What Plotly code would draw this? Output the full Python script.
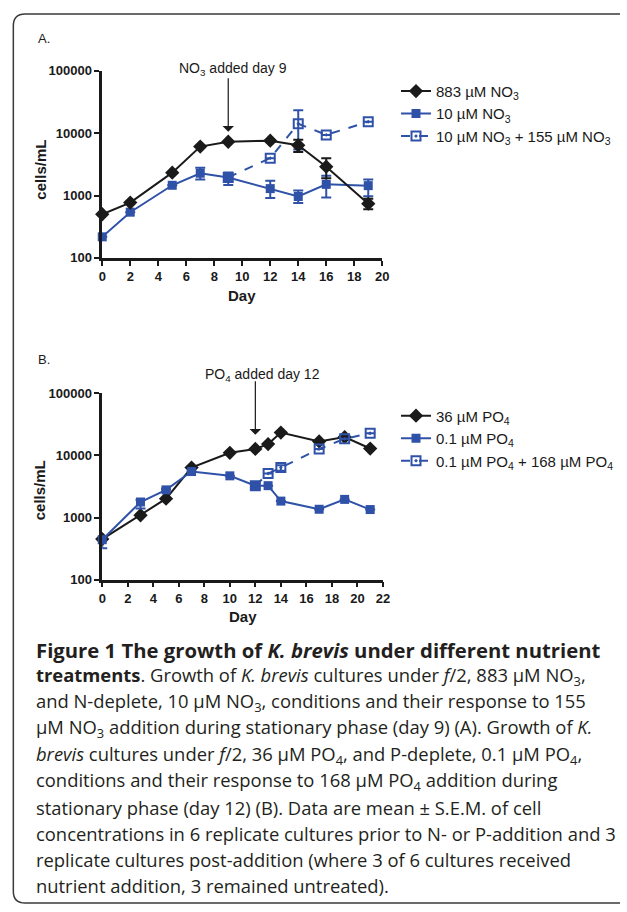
import plotly.graph_objects as go
import numpy as np

W, H = 627, 912

# ---------------- Data: panel A (nitrate) ----------------
a_days_hi = [0, 2, 5, 7, 9, 12, 14, 16, 19]
a_hi_vals = [500, 770, 2330, 6100, 7300, 7600, 6400, 2900, 740]
a_hi_up = [0, 0, 0, 0, 0, 0, 1450, 1050, 150]
a_hi_dn = [0, 0, 0, 0, 0, 0, 1400, 1000, 140]

a_days_lo = [0, 2, 5, 7, 9, 12, 14, 16, 19]
a_lo_vals = [217, 540, 1460, 2280, 1950, 1290, 965, 1510, 1440]
a_lo_up = [0, 0, 0, 520, 390, 440, 235, 560, 370]
a_lo_dn = [0, 0, 0, 470, 480, 380, 205, 580, 465]

a_days_add = [9, 12, 14, 16, 19]
a_add_vals = [1950, 3980, 14200, 9400, 15300]
a_add_up = [0, 0, 9200, 0, 0]
a_add_dn = [0, 0, 8700, 0, 0]

# ---------------- Data: panel B (phosphate) ----------------
b_days_hi = [0, 3, 5, 7, 10, 12, 13, 14, 17, 19, 21]
b_hi_vals = [450, 1090, 2010, 6360, 11000, 12700, 15200, 23300, 16800, 19700, 12900]

b_days_lo = [0, 3, 5, 7, 10, 12, 13, 14, 17, 19, 21]
b_lo_vals = [440, 1780, 2790, 5500, 4690, 3260, 3260, 1840, 1360, 1960, 1345]
b_lo_up = [60, 150, 150, 0, 0, 0, 0, 0, 0, 0, 0]
b_lo_dn = [120, 380, 0, 0, 0, 0, 0, 0, 0, 0, 0]

b_days_add = [12, 13, 14, 17, 19, 21]
b_add_vals = [3260, 5110, 6360, 12700, 18500, 22700]
b_add_up = [0, 0, 600, 0, 0, 0]
b_add_dn = [0, 0, 700, 0, 0, 0]

y_tickvals = [100, 1000, 10000, 100000]
y_ticktext = ["100", "1000", "10000", "100000"]

leg_a = ["883 µM NO<sub>3</sub>", "10 µM NO<sub>3</sub>", "10 µM NO<sub>3</sub> + 155 µM NO<sub>3</sub>"]
leg_b = ["36 µM PO<sub>4</sub>", "0.1 µM PO<sub>4</sub>", "0.1 µM PO<sub>4</sub> + 168 µM PO<sub>4</sub>"]

caption_lines = [
    "<b>Figure 1 The growth of <i>K. brevis</i> under different nutrient</b>",
    "<b>treatments</b>. Growth of <i>K. brevis</i> cultures under <i>f</i>/2, 883 µM NO<sub>3</sub>,",
    "and N-deplete, 10 µM NO<sub>3</sub>, conditions and their response to 155",
    "µM NO<sub>3</sub> addition during stationary phase (day 9) (A). Growth of <i>K.</i>",
    "<i>brevis</i> cultures under <i>f</i>/2, 36 µM PO<sub>4</sub>, and P-deplete, 0.1 µM PO<sub>4</sub>,",
    "conditions and their response to 168 µM PO<sub>4</sub> addition during",
    "stationary phase (day 12) (B). Data are mean ± S.E.M. of cell",
    "concentrations in 6 replicate cultures prior to N- or P-addition and 3",
    "replicate cultures post-addition (where 3 of 6 cultures received",
    "nutrient addition, 3 remained untreated).",
]

BLACK = "#1a1a1a"
BLUE = "#2f52a8"
AXFONT = "Liberation Sans, Arial, sans-serif"


def px_x(p):
    return p / W


def px_y(p):
    return 1 - p / H


fig = go.Figure()


def err(up, dn, color):
    return dict(type="data", symmetric=False, array=up, arrayminus=dn,
                color=color, thickness=2, width=5, visible=True)


def add_series(x, y, up, dn, name, color, symbol, size, dash, xa, ya, legend):
    kw = {}
    if up is not None:
        kw["error_y"] = err(up, dn, color)
    fig.add_trace(go.Scatter(
        x=x, y=y, name=name, mode="lines+markers", xaxis=xa, yaxis=ya,
        legend=legend, cliponaxis=False,
        line=dict(color=color, width=2, dash=dash),
        marker=dict(symbol=symbol, size=size, color=color,
                    line=dict(color=color, width=2 if "open" in symbol else 0)),
        **kw))


# Panel A (black drawn on top)
add_series(a_days_add, a_add_vals, a_add_up, a_add_dn, leg_a[2], BLUE, "square-open-dot", 9, "dash", "x", "y", "legend")
add_series(a_days_lo, a_lo_vals, a_lo_up, a_lo_dn, leg_a[1], BLUE, "square", 9, "solid", "x", "y", "legend")
add_series(a_days_hi, a_hi_vals, a_hi_up, a_hi_dn, leg_a[0], BLACK, "diamond", 11, "solid", "x", "y", "legend")
# Panel B (blue drawn on top)
add_series(b_days_hi, b_hi_vals, None, None, leg_b[0], BLACK, "diamond", 11, "solid", "x2", "y2", "legend2")
add_series(b_days_lo, b_lo_vals, b_lo_up, b_lo_dn, leg_b[1], BLUE, "square", 9, "solid", "x2", "y2", "legend2")
add_series(b_days_add, b_add_vals, b_add_up, b_add_dn, leg_b[2], BLUE, "square-open-dot", 9, "dash", "x2", "y2", "legend2")

axis_common = dict(showline=True, linewidth=2.5, linecolor=BLACK, ticks="outside",
                   ticklen=5, tickwidth=2, tickcolor=BLACK, showgrid=False, zeroline=False,
                   tickfont=dict(family=AXFONT, size=13, color=BLACK, weight="bold"),
                   mirror=False)

leg_common = dict(xanchor="left", yanchor="top", font=dict(family=AXFONT, size=15, color=BLACK),
                  bgcolor="rgba(0,0,0,0)", itemwidth=30, tracegroupgap=0)

fig.update_layout(
    width=W, height=H, margin=dict(l=0, r=0, t=0, b=0),
    paper_bgcolor="white", plot_bgcolor="white",
    xaxis=dict(domain=[px_x(100), px_x(385)], range=[0, 20], tickvals=list(range(0, 21, 2)),
               anchor="y", **axis_common),
    yaxis=dict(domain=[px_y(255), px_y(65)], type="log", range=[2, 5], tickvals=y_tickvals,
               ticktext=y_ticktext, anchor="x", **axis_common),
    xaxis2=dict(domain=[px_x(100), px_x(385.7)], range=[0, 22], tickvals=list(range(0, 23, 2)),
                anchor="y2", **axis_common),
    yaxis2=dict(domain=[px_y(582.3), px_y(392.7)], type="log", range=[2, 5], tickvals=y_tickvals,
                ticktext=y_ticktext, anchor="x2", **axis_common),
    legend=dict(x=px_x(399), y=px_y(69), traceorder="reversed", **leg_common),
    legend2=dict(x=px_x(399), y=px_y(399), traceorder="normal", **leg_common),
    showlegend=True,
)

ann = []
# panel labels
ann.append(dict(text="A.", x=px_x(33), y=px_y(32), xref="paper", yref="paper", xanchor="left",
                yanchor="middle", showarrow=False, font=dict(family=AXFONT, size=13, color=BLACK)))
ann.append(dict(text="B.", x=px_x(33), y=px_y(358), xref="paper", yref="paper", xanchor="left",
                yanchor="middle", showarrow=False, font=dict(family=AXFONT, size=13, color=BLACK)))
# axis titles
for yc in [165, 491]:
    ann.append(dict(text="<b>cells/mL</b>", x=px_x(37), y=px_y(yc), xref="paper", yref="paper",
                    textangle=-90, showarrow=False, xanchor="center", yanchor="middle",
                    font=dict(family=AXFONT, size=15, color=BLACK)))
for xc, yc in [(242.5, 293), (243, 620)]:
    ann.append(dict(text="<b>Day</b>", x=px_x(xc), y=px_y(yc), xref="paper", yref="paper",
                    xanchor="center", yanchor="middle",
                    showarrow=False, font=dict(family=AXFONT, size=15, color=BLACK)))
# arrow annotations
ann.append(dict(text="NO<sub>3</sub> added day 9", x=px_x(233.5), y=px_y(63), xref="paper", yref="paper",
                xanchor="center", yanchor="middle",
                showarrow=False, font=dict(family=AXFONT, size=14, color=BLACK)))
ann.append(dict(text="", x=9, y=np.log10(10600), xref="x", yref="y", ax=0, ay=-55,
                showarrow=True, arrowhead=1, arrowsize=1.6, arrowwidth=1.2, arrowcolor=BLACK))
ann.append(dict(text="PO<sub>4</sub> added day 12", x=px_x(262.7), y=px_y(374), xref="paper", yref="paper",
                xanchor="center", yanchor="middle",
                showarrow=False, font=dict(family=AXFONT, size=14, color=BLACK)))
ann.append(dict(text="", x=12, y=np.log10(21500), xref="x2", yref="y2", ax=0, ay=-55,
                showarrow=True, arrowhead=1, arrowsize=1.6, arrowwidth=1.2, arrowcolor=BLACK))
# caption
cap_y = [653.5, 680, 707, 733.5, 760, 787, 813.5, 840, 867, 893.5]
for i, (line, yy) in enumerate(zip(caption_lines, cap_y)):
    ann.append(dict(text=line, x=px_x(30.5), y=px_y(yy), xref="paper", yref="paper",
                    xanchor="left", yanchor="middle", showarrow=False, align="left",
                    font=dict(family="Open Sans, sans-serif", size=20.3 if i == 0 else 18.4,
                              color="#231f20")))
fig.update_layout(annotations=ann)

# frame around figure (rounded at left corners)
r = 12
path = (f"M {px_x(627)},{px_y(7)} L {px_x(9.5 + r)},{px_y(7)} "
        f"Q {px_x(9.5)},{px_y(7)} {px_x(9.5)},{px_y(7 + r)} "
        f"L {px_x(9.5)},{px_y(911 - r)} Q {px_x(9.5)},{px_y(911)} {px_x(9.5 + r)},{px_y(911)} "
        f"L {px_x(627)},{px_y(911)}")
fig.add_shape(type="path", path=path, xref="paper", yref="paper",
              line=dict(color="#3a3a3a", width=1.5))

fig.write_html("out.html", config={"displayModeBar": False})
with open("out.html", "r", encoding="utf-8") as f:
    html = f.read()
css = ("<style>html,body{margin:0;padding:0;overflow:hidden;width:627px;height:912px}"
       ".plotly-graph-div{position:fixed !important;top:0;left:0}</style>")
html = html.replace("</head>", css + "</head>", 1)
with open("out.html", "w", encoding="utf-8") as f:
    f.write(html)
